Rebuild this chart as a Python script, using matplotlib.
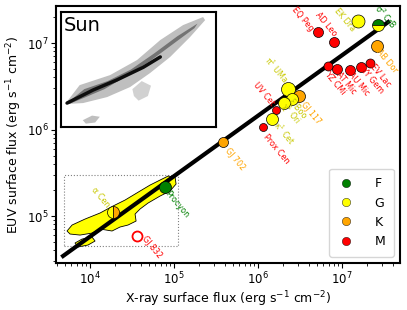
import numpy as np
import matplotlib
matplotlib.use("Agg")
import matplotlib.pyplot as plt
from matplotlib.lines import Line2D
from matplotlib.patches import Polygon, Rectangle

# stars: log10 X-ray flux, log10 EUV flux, spectral type
names = ["EQ Peg", "AD Leo", "EK Dra", "σ$^2$ CrB", "AB Dor", "EV Lac", "YY Gem",
         "AU Mic", "AT Mic", "YZ CMi", "π$^1$ UMa", "GJ 117", "ξ Boo", "χ$^1$ Ori",
         "UV Cet", "κ$^1$ Cet", "Prox Cen", "GJ 702", "Procyon", "α Cen", "GJ 832"]
log_fx = [6.714, 6.905, 7.190, 7.429, 7.417, 7.333, 7.226, 7.095, 6.940, 6.833,
          6.357, 6.488, 6.405, 6.310, 6.214, 6.167, 6.060, 5.583, 4.893, 4.274, 4.560]
log_feuv = [7.127, 7.012, 7.254, 7.208, 6.965, 6.769, 6.723, 6.688, 6.699, 6.734,
            6.468, 6.387, 6.353, 6.306, 6.225, 6.121, 6.029, 5.855, 5.335, 5.046, 4.769]
sptype = ["M", "M", "G", "F", "K", "M", "M", "M", "M", "M",
          "G", "K", "G", "G", "M", "G", "M", "K", "F", "G", "M"]
alt_type = {"σ$^2$ CrB": "G", "α Cen": "K"}
radius_px = [5, 5, 6.5, 6, 6, 4.5, 5, 5, 5, 4.5, 7, 6, 6, 6, 4, 6, 4, 5, 6, 6, 5]
# label centre offsets from the star (pixels, right/up)
lab_dx = [-15, -8, -13, 7, 10, 10, 11, 9, 9, 7, -12, 12, 6, 6, -12, 12, 13, 12, 12, -13, 15]
lab_dy = [13, 18, 1, 9, -15, -13, -13, -14, -14, -17, 19, -17, -10, -11, 16, -14, -22, -17, -17, 15, -11]

# fitted relation, end points
line_lx = [3.679, 7.548]
line_ly = [4.538, 7.243]

# solar range (main panel), outline of the yellow region
sun_lx = [3.726, 3.786, 3.940, 4.119, 4.274, 4.417, 4.595, 4.714, 4.833, 4.929, 5.012,
          5.024, 4.952, 4.833, 4.690, 4.595, 4.536, 4.548, 4.452, 4.357, 4.262, 4.119,
          4.024, 3.881, 3.762]
sun_ly = [4.827, 4.896, 4.965, 5.035, 5.116, 5.185, 5.289, 5.358, 5.416, 5.462, 5.451,
          5.370, 5.289, 5.231, 5.150, 5.081, 5.023, 4.942, 4.896, 4.873, 4.827, 4.850,
          4.803, 4.780, 4.792]
tail_lx = [3.821, 3.905, 4.024, 4.060, 3.976, 3.857]
tail_ly = [4.688, 4.734, 4.757, 4.711, 4.665, 4.642]
box_lx = [3.690, 5.048]
box_ly = [4.653, 5.474]

# Sun inset (relative units)
env_x = [0.026, 0.12, 0.316, 0.49, 0.64, 0.787, 0.916, 0.929, 0.832, 0.703, 0.574, 0.445, 0.297, 0.142]
env_y = [0.20, 0.365, 0.452, 0.583, 0.757, 0.887, 0.957, 0.93, 0.783, 0.609, 0.47, 0.348, 0.261, 0.209]
mid_x = [0.04, 0.15, 0.30, 0.45, 0.60, 0.75, 0.88, 0.86, 0.72, 0.58, 0.43, 0.28, 0.14, 0.05]
mid_y = [0.21, 0.33, 0.40, 0.50, 0.64, 0.79, 0.90, 0.86, 0.72, 0.58, 0.45, 0.33, 0.25, 0.20]
core_x = [0.039, 0.206, 0.36, 0.53, 0.64]
core_y = [0.209, 0.322, 0.41, 0.52, 0.61]
patch1_x = [0.46, 0.52, 0.58, 0.56, 0.50, 0.47]
patch1_y = [0.33, 0.40, 0.36, 0.27, 0.23, 0.27]
patch2_x = [0.14, 0.20, 0.25, 0.22, 0.16]
patch2_y = [0.06, 0.10, 0.09, 0.04, 0.03]

colors = {"F": "green", "G": "yellow", "K": "orange", "M": "red"}
text_colors = {"F": "green", "G": "#c8c800", "K": "orange", "M": "red"}

fig = plt.figure(figsize=(4.07, 3.10), dpi=100)
ax = fig.add_axes([0.1376, 0.1516, 0.8454, 0.8294])
ax.set_xscale("log")
ax.set_yscale("log")
ax.set_xlim(10 ** 3.595, 10 ** 7.69)
ax.set_ylim(10 ** 4.457, 10 ** 7.43)

sun_poly = Polygon(np.column_stack([10 ** np.array(sun_lx), 10 ** np.array(sun_ly)]),
                   closed=True, facecolor="yellow", edgecolor="black", lw=0.6, zorder=2)
ax.add_patch(sun_poly)
tail_poly = Polygon(np.column_stack([10 ** np.array(tail_lx), 10 ** np.array(tail_ly)]),
                    closed=True, facecolor="yellow", edgecolor="black", lw=0.6, zorder=2)
ax.add_patch(tail_poly)
ax.add_patch(Rectangle((10 ** box_lx[0], 10 ** box_ly[0]),
                       10 ** box_lx[1] - 10 ** box_lx[0], 10 ** box_ly[1] - 10 ** box_ly[0],
                       fill=False, edgecolor="gray", ls=":", lw=0.8, zorder=1))

ax.plot(10 ** np.array(line_lx), 10 ** np.array(line_ly), color="black", lw=3, zorder=4)

px2pt = 0.72
for i, name in enumerate(names):
    x = 10 ** log_fx[i]
    y = 10 ** log_feuv[i]
    ms = 2 * radius_px[i] * px2pt
    c = colors[sptype[i]]
    if name == "GJ 832":
        ax.plot(x, y, "o", ms=ms, mfc="none", mec="red", mew=1.3, zorder=5)
    elif name in alt_type:
        fs = "top" if name.startswith("σ") else "left"
        ax.plot(x, y, "o", ms=ms, mfc=c, mfcalt=colors[alt_type[name]], fillstyle=fs,
                mec="black", mew=0.5, zorder=5)
    else:
        ax.plot(x, y, "o", ms=ms, mfc=c, mec="black", mew=0.5, zorder=5)
    ax.annotate(name, (x, y), xytext=(lab_dx[i] * px2pt, lab_dy[i] * px2pt),
                textcoords="offset points", ha="center", va="center", rotation=-50,
                fontsize=5.8, color=text_colors[sptype[i]], zorder=6)

handles = [Line2D([], [], ls="", marker="o", ms=6, mfc=colors[t], mec="black", mew=0.3)
           for t in ["F", "G", "K", "M"]]
ax.legend(handles, ["F", "G", "K", "M"], loc="lower right", fontsize=9,
          handlelength=1.3, handletextpad=1.6, labelspacing=0.5, borderpad=0.7)

ax.set_xlabel("X-ray surface flux (erg s$^{-1}$ cm$^{-2}$)", fontsize=9, labelpad=1.5)
ax.set_ylabel("EUV surface flux (erg s$^{-1}$ cm$^{-2}$)", fontsize=9, labelpad=2)
ax.tick_params(labelsize=8.5, pad=2)
for sp in ax.spines.values():
    sp.set_linewidth(1.5)

# Sun inset
ins = fig.add_axes([0.150, 0.590, 0.381, 0.371])
ins.set_xlim(0, 1)
ins.set_ylim(0, 1)
ins.set_xticks([])
ins.set_yticks([])
for sp in ins.spines.values():
    sp.set_linewidth(1.5)
ins.add_patch(Polygon(np.column_stack([env_x, env_y]), closed=True, facecolor="0.75",
                      edgecolor="none"))
ins.add_patch(Polygon(np.column_stack([patch1_x, patch1_y]), closed=True, facecolor="0.82",
                      edgecolor="none"))
ins.add_patch(Polygon(np.column_stack([patch2_x, patch2_y]), closed=True, facecolor="0.75",
                      edgecolor="none"))
ins.add_patch(Polygon(np.column_stack([mid_x, mid_y]), closed=True, facecolor="0.45",
                      edgecolor="none"))
ins.plot(core_x, core_y, color="0.05", lw=2.5, solid_capstyle="round")
ins.text(0.02, 0.97, "Sun", transform=ins.transAxes, ha="left", va="top", fontsize=14)

fig.savefig("out.png", dpi=100)
